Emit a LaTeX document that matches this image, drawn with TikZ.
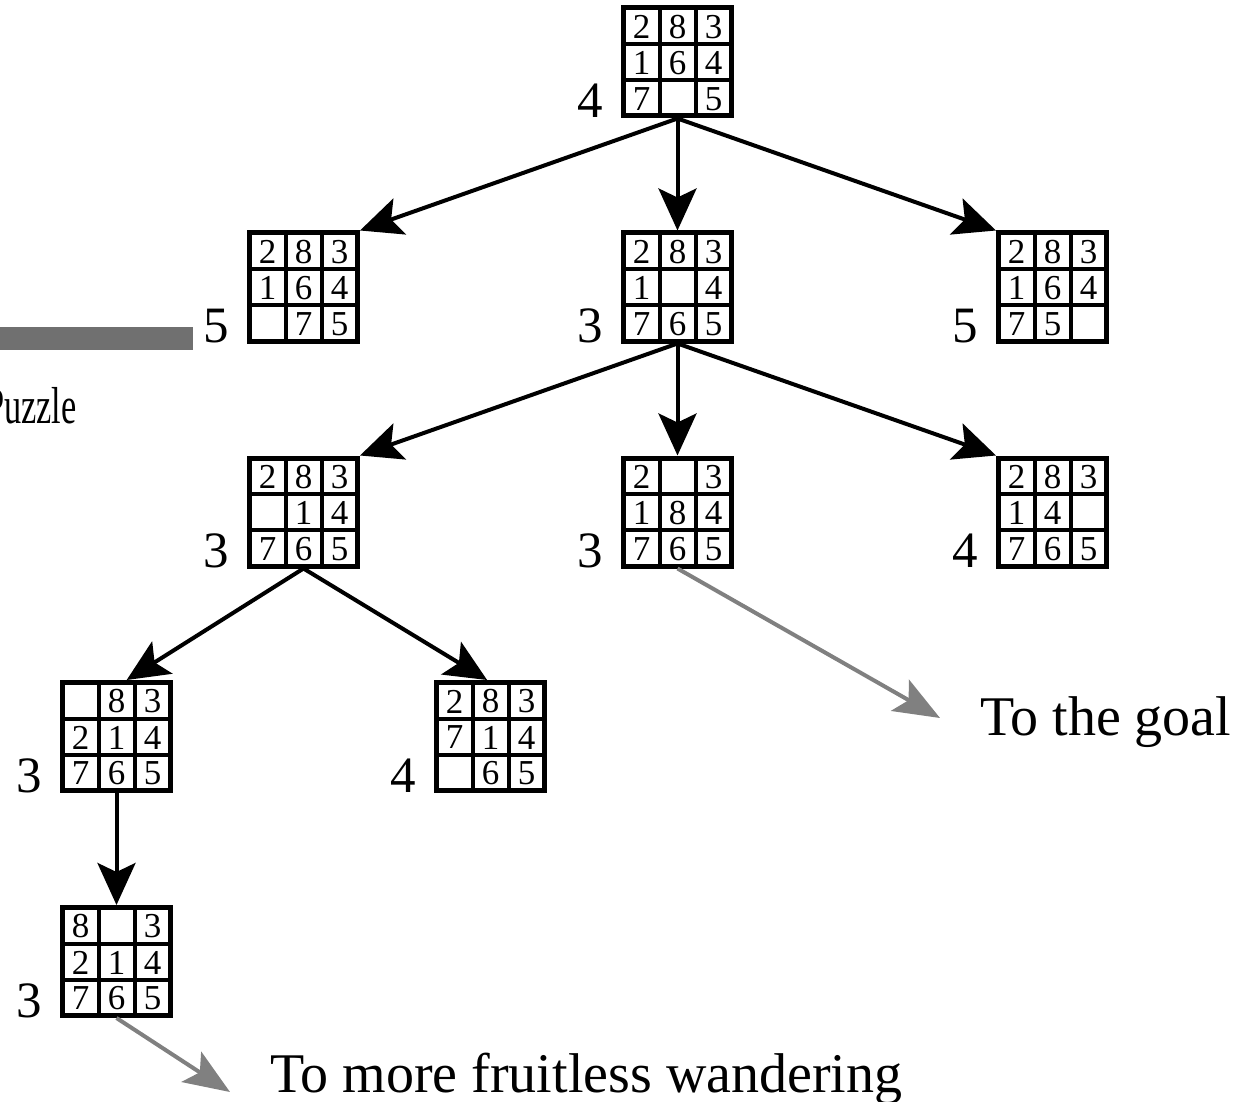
\documentclass[tikz,border=0pt]{standalone}
\usepackage{fontspec}
\setmainfont{Liberation Serif}
\usetikzlibrary{arrows.meta,calc}
\definecolor{hintgray}{RGB}{128,128,128}
\definecolor{bargray}{RGB}{112,112,112}
\tikzset{
 pbox/.style={draw,line width=5pt,minimum width=108pt,minimum height=108pt,inner sep=0pt},
 gridline/.style={line width=4pt},
 cell/.style={font=\fontsize{35}{35}\selectfont,inner sep=0pt},
 hval/.style={font=\fontsize{51}{51}\selectfont,inner sep=0pt,anchor=base east},
 tree/.style={line width=4pt,-{Stealth[length=42pt,width=38pt,inset=9pt]}},
 hint/.style={draw=hintgray,line width=4pt,-{Stealth[length=46pt,width=36pt,inset=10pt,fill=hintgray]}},
 note/.style={font=\fontsize{56}{56}\selectfont,anchor=base west,inner sep=0pt},
}
\newcommand\pz[6]{%
 \node[pbox] (#1) at (#2) {};
 \draw[gridline] ($(#1.center)+(-18,-54)$) -- ($(#1.center)+(-18,54)$);
 \draw[gridline] ($(#1.center)+(18,-54)$) -- ($(#1.center)+(18,54)$);
 \draw[gridline] ($(#1.center)+(-54,-18)$) -- ($(#1.center)+(54,-18)$);
 \draw[gridline] ($(#1.center)+(-54,18)$) -- ($(#1.center)+(54,18)$);
 \foreach \v [count=\i from -1] in {#3} \node[cell] at ($(#1.center)+(\i*36,-35)$) {\v};
 \foreach \v [count=\i from -1] in {#4} \node[cell] at ($(#1.center)+(\i*36,1)$) {\v};
 \foreach \v [count=\i from -1] in {#5} \node[cell] at ($(#1.center)+(\i*36,37)$) {\v};
 \node[hval] (#1l) at ($(#1.south west)+(-18,-1)$) {#6};
}
\begin{document}
\begin{tikzpicture}[x=1pt,y=-1pt]
\useasboundingbox (0,0) rectangle (1240,1102);
\begin{scope}
\clip (0,0) rectangle (1240,1102);
\fill[bargray] (0,327) rectangle (193,350);
\node[font=\fontsize{52}{52}\selectfont,anchor=base west,inner sep=0pt,xscale=0.66] (pz) at (-15,423) {Puzzle};
\end{scope}

\pz{r}{677.5,62}{2,8,3}{1,6,4}{7,{},5}{4}
\pz{a1}{303.5,287}{2,8,3}{1,6,4}{{},7,5}{5}
\pz{a2}{677.5,287}{2,8,3}{1,{},4}{7,6,5}{3}
\pz{a3}{1052.5,287}{2,8,3}{1,6,4}{7,5,{}}{5}
\pz{b1}{303.5,512}{2,8,3}{{},1,4}{7,6,5}{3}
\pz{b2}{677.5,512}{2,{},3}{1,8,4}{7,6,5}{3}
\pz{b3}{1052.5,512}{2,8,3}{1,4,{}}{7,6,5}{4}
\pz{c1}{116.5,736.5}{{},8,3}{2,1,4}{7,6,5}{3}
\pz{c2}{490.5,736.5}{2,8,3}{7,1,4}{{},6,5}{4}
\pz{d1}{116.5,961.5}{8,{},3}{2,1,4}{7,6,5}{3}

\draw[tree] (r.south) -- (a1.north east);
\draw[tree] (r.south) -- (a2.north);
\draw[tree] (r.south) -- (a3.north west);
\draw[tree] (a2.south) -- (b1.north east);
\draw[tree] (a2.south) -- (b2.north);
\draw[tree] (a2.south) -- (b3.north west);
\draw[tree] (b1.south) -- ($(c1.north west)!0.59!(c1.north east)$);
\draw[tree] (b1.south) -- ($(c2.north west)!0.47!(c2.north east)$);
\draw[tree] (c1.south) -- (d1.north);

\coordinate (g1) at (940,718);
\coordinate (g2) at (230,1092);
\draw[hint] (b2.south) -- (g1);
\draw[hint] (d1.south) -- (g2);
\node[note] (t1) at (980,735) {To the goal};
\node[note] (t2) at (270,1092) {To more fruitless wandering};
\end{tikzpicture}
\end{document}
